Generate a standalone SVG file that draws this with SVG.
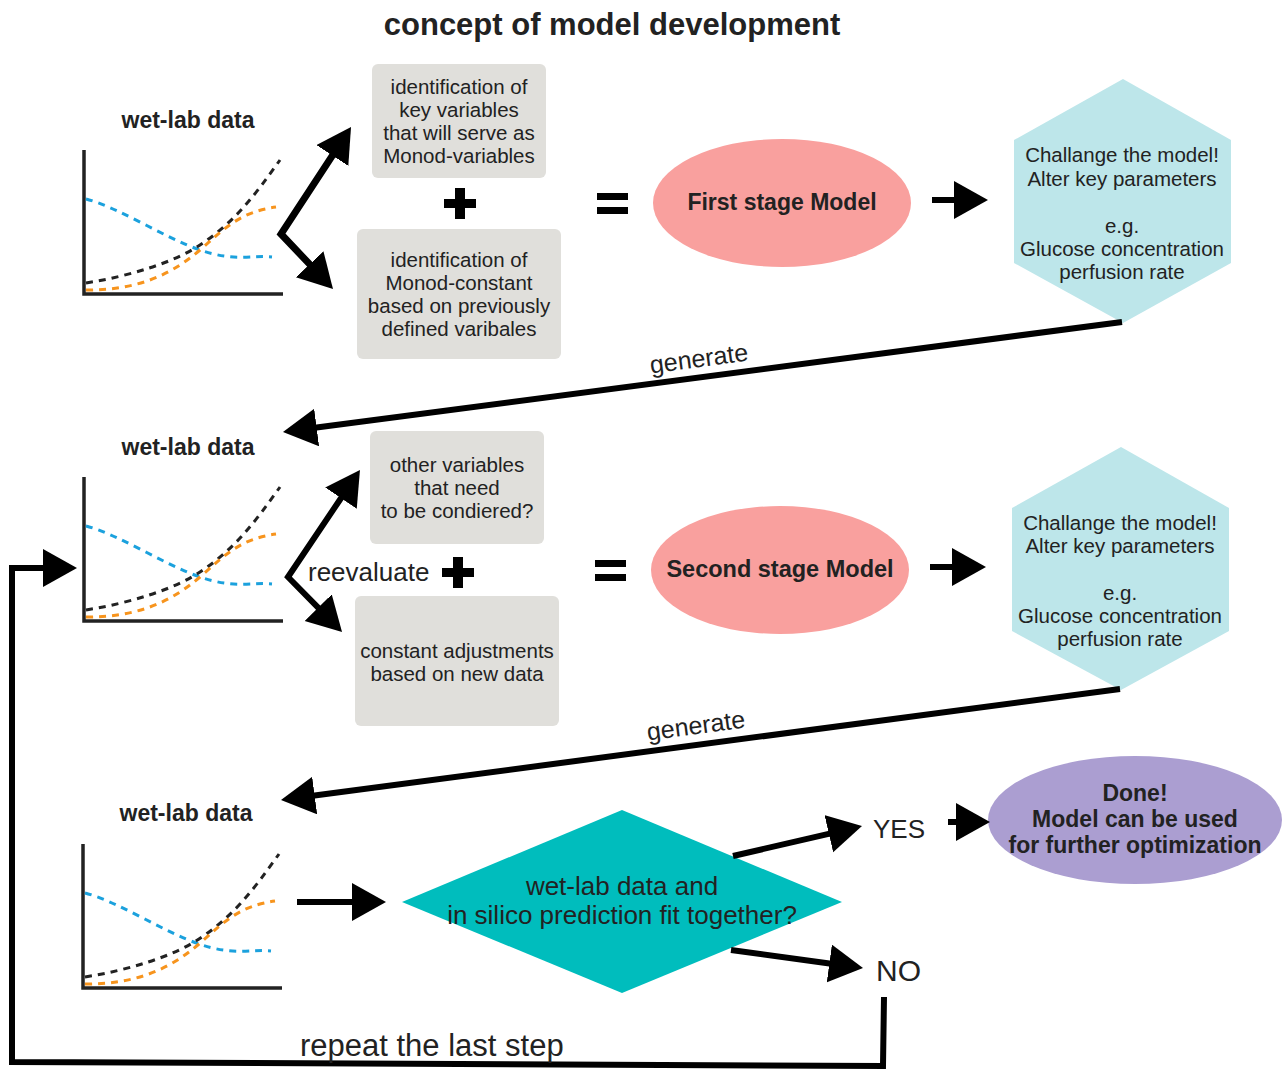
<svg xmlns="http://www.w3.org/2000/svg" xmlns:xlink="http://www.w3.org/1999/xlink" width="1282" height="1071" viewBox="0 0 1282 1071">
<style>
text{font-family:"Liberation Sans",Arial,sans-serif;fill:#222;}
.t{font-size:20.5px;text-anchor:middle;}
.b{font-weight:bold;text-anchor:middle;}
.box{fill:#e0dfdb;}
.ax{fill:none;stroke:#222;stroke-width:3.5;}
.d{fill:none;stroke-width:3;stroke-dasharray:7 6;}
.arr{fill:none;stroke:#000;stroke-width:6;marker-end:url(#ah);}
.bar{fill:#000;}
</style>
<defs>
<marker id="ah" markerUnits="userSpaceOnUse" markerWidth="40" markerHeight="40" refX="2" refY="19" orient="auto-start-reverse">
<path d="M0,0 L34,19 L0,38 Z" fill="#000"/>
</marker>
<g id="chart">
<path class="ax" d="M84,150 L84,294 L283,294"/>
<path class="d" stroke="#1ba1dd" d="M86,199 C120,208 165,238 200,250 S250,255 272,257"/>
<path class="d" stroke="#222" d="M86,283 C130,276 175,262 200,245 C235,222 255,195 280,160"/>
<path class="d" stroke="#f7941d" d="M86,290 C130,290 165,280 200,250 C225,228 240,212 276,207"/>
</g>
</defs>
<rect width="1282" height="1071" fill="#fff"/>
<text x="612" y="35" class="b" font-size="31">concept of model development</text>

<g id="data1">
<text x="188" y="128" class="b" font-size="23">wet-lab data</text>
<use xlink:href="#chart"/>
</g>
<g id="data2">
<text x="188" y="455" class="b" font-size="23">wet-lab data</text>
<use xlink:href="#chart" transform="translate(0,327)"/>
</g>
<g id="data3">
<text x="186" y="821" class="b" font-size="23">wet-lab data</text>
<use xlink:href="#chart" transform="translate(-1,694)"/>
</g>

<g id="keyvars">
<rect class="box" x="372" y="64" width="174" height="114" rx="6"/>
<text class="t" x="459" y="94">identification of</text>
<text class="t" x="459" y="117">key variables</text>
<text class="t" x="459" y="140">that will serve as</text>
<text class="t" x="459" y="163">Monod-variables</text>
</g>
<g id="constant">
<rect class="box" x="357" y="229" width="204" height="130" rx="6"/>
<text class="t" x="459" y="267">identification of</text>
<text class="t" x="459" y="290">Monod-constant</text>
<text class="t" x="459" y="313">based on previously</text>
<text class="t" x="459" y="336">defined varibales</text>
</g>
<g id="othervars">
<rect class="box" x="370" y="431" width="174" height="113" rx="6"/>
<text class="t" x="457" y="472">other variables</text>
<text class="t" x="457" y="495">that need</text>
<text class="t" x="457" y="518">to be condiered?</text>
</g>
<g id="adjust">
<rect class="box" x="355" y="596" width="204" height="130" rx="6"/>
<text class="t" x="457" y="658">constant adjustments</text>
<text class="t" x="457" y="681">based on new data</text>
</g>

<g id="plus1"><rect class="bar" x="444" y="199" width="32" height="9"/><rect class="bar" x="455" y="188" width="10" height="31"/></g>
<g id="plus2"><rect class="bar" x="442" y="568" width="32" height="9"/><rect class="bar" x="453" y="557" width="10" height="31"/></g>
<g id="eq1"><rect class="bar" x="597" y="193" width="31" height="7"/><rect class="bar" x="597" y="207" width="31" height="7"/></g>
<g id="eq2"><rect class="bar" x="595" y="560" width="31" height="7"/><rect class="bar" x="595" y="574" width="31" height="7"/></g>

<g id="model1">
<ellipse cx="782" cy="203" rx="129" ry="64" fill="#f9a09e"/>
<text x="782" y="210" class="b" font-size="23">First stage Model</text>
</g>
<g id="model2">
<ellipse cx="780" cy="570" rx="129" ry="64" fill="#f9a09e"/>
<text x="780" y="577" class="b" font-size="23.5">Second stage Model</text>
</g>

<g id="challenge1">
<polygon points="1123,79 1231,140 1231,263 1123,323 1014,263 1014,140" fill="#bde6ea"/>
<text class="t" x="1122" y="162">Challange the model!</text>
<text class="t" x="1122" y="186">Alter key parameters</text>
<text class="t" x="1122" y="233">e.g.</text>
<text class="t" x="1122" y="256">Glucose concentration</text>
<text class="t" x="1122" y="279">perfusion rate</text>
</g>
<g id="challenge2">
<polygon points="1121,447 1229,508 1229,631 1121,690 1012,631 1012,508" fill="#bde6ea"/>
<text class="t" x="1120" y="530">Challange the model!</text>
<text class="t" x="1120" y="553">Alter key parameters</text>
<text class="t" x="1120" y="600">e.g.</text>
<text class="t" x="1120" y="623">Glucose concentration</text>
<text class="t" x="1120" y="646">perfusion rate</text>
</g>

<g id="decision">
<polygon points="622,810 842,902 622,993 402,902" fill="#00bdbd"/>
<text x="622" y="895" font-size="26" text-anchor="middle">wet-lab data and</text>
<text x="622" y="924" font-size="26" text-anchor="middle">in silico prediction fit together?</text>
</g>
<g id="yes"><text x="873" y="838" font-size="26">YES</text></g>
<g id="no"><text x="876" y="981" font-size="30">NO</text></g>
<g id="done">
<ellipse cx="1135" cy="820" rx="147" ry="64" fill="#ab9ed1"/>
<text x="1135" y="801" class="b" font-size="23">Done!</text>
<text x="1135" y="827" class="b" font-size="23">Model can be used</text>
<text x="1135" y="853" class="b" font-size="23">for further optimization</text>
</g>

<g id="connectors">
<path d="M333.5,153.8 L281,234 L311,265.7" fill="none" stroke="#000" stroke-width="7" marker-start="url(#ah)" marker-end="url(#ah)"/>
<path d="M342.1,496.5 L288,577 L319.6,609.1" fill="none" stroke="#000" stroke-width="6" marker-start="url(#ah)" marker-end="url(#ah)"/>
<text x="308" y="581" font-size="26">reevaluate</text>
<path class="arr" stroke-width="8" d="M932,200 L956,200"/>
<path class="arr" stroke-width="8" d="M930,567 L954,567"/>
<path class="arr" d="M1122,322 L314.7,427.8"/>
<text transform="translate(700,367) rotate(-7.5)" font-size="25" text-anchor="middle">generate</text>
<path class="arr" d="M1120,689 L312.7,795.8"/>
<text transform="translate(697,734) rotate(-7.5)" font-size="25" text-anchor="middle">generate</text>
<path class="arr" stroke-width="8" d="M297,902 L354,902"/>
<path class="arr" stroke-width="7" d="M733,856 L830.8,833.3"/>
<path class="arr" stroke-width="7" d="M731,950 L831.3,963.7"/>
<path class="arr" stroke-width="9" d="M948,822 L958,822"/>
<path class="arr" d="M884,997 L883,1066 L12,1062 L12,568 L45,568" stroke-linejoin="miter"/>
<text x="300" y="1056" font-size="31">repeat the last step</text>
</g>
</svg>
